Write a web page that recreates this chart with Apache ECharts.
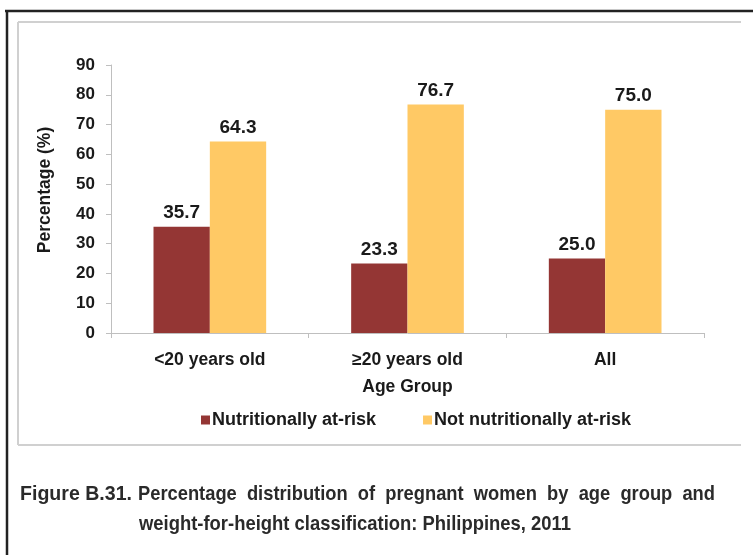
<!DOCTYPE html>
<html>
<head>
<meta charset="utf-8">
<script src="https://cdn.jsdelivr.net/npm/echarts@6/dist/echarts.min.js"></script>
<style>html,body{margin:0;padding:0;background:#fff;}#c{width:753px;height:555px;}</style>
</head>
<body>
<div id="c"></div>
<script>
var categories = ['<20 years old', '\u226520 years old', 'All'];
var seriesNames = ['Nutritionally at-risk', 'Not nutritionally at-risk'];
var atRisk = [35.7, 23.3, 25.0];
var notAtRisk = [64.3, 76.7, 75.0];
var yTicks = [0, 10, 20, 30, 40, 50, 60, 70, 80, 90];
var yAxisTitle = 'Percentage (%)';
var xAxisTitle = 'Age Group';
var captionLabel = 'Figure B.31.';
var captionLine1 = 'Percentage  distribution  of  pregnant  women  by  age  group  and';
var captionLine2 = 'weight-for-height classification: Philippines, 2011';

var font = 'Arial, "Liberation Sans", sans-serif';
var capFont = 'bold 21px "Liberation Sans Narrow", "Liberation Sans", Arial, sans-serif';
var mctx = document.createElement('canvas').getContext('2d');
mctx.font = capFont;
function fitScale(text, target) { return target / mctx.measureText(text).width; }

var chart = echarts.init(document.getElementById('c'), null, {renderer: 'canvas'});
var labelStyle = {show: true, position: 'top', distance: 4, fontFamily: font, fontWeight: 'bold', fontSize: 19, color: '#1a1a1a', formatter: function(p){return p.value.toFixed(1);}};
chart.setOption({
  animation: false,
  backgroundColor: '#fff',
  grid: {left: 111, right: 49, top: 65, bottom: 222},
  legend: {
    data: seriesNames,
    top: 406,
    left: 196,
    itemWidth: 9, itemHeight: 9, itemGap: 47,
    icon: 'rect',
    textStyle: {fontFamily: font, fontWeight: 'bold', fontSize: 18, color: '#1a1a1a', padding: [0,0,0,-3]}
  },
  xAxis: {
    type: 'category',
    data: categories,
    name: xAxisTitle,
    nameLocation: 'middle',
    nameGap: 45,
    nameTextStyle: {fontFamily: font, fontWeight: 'bold', fontSize: 17.5, color: '#1a1a1a'},
    axisLine: {lineStyle: {color: '#bfbfbf', width: 1}},
    axisTick: {show: true, length: 5, lineStyle: {color: '#bfbfbf'}},
    axisLabel: {fontFamily: font, fontWeight: 'bold', fontSize: 17.5, color: '#1a1a1a', margin: 18}
  },
  yAxis: {
    type: 'value',
    min: 0, max: 90, interval: 10,
    axisLine: {show: true, lineStyle: {color: '#bfbfbf', width: 1}},
    axisTick: {show: true, length: 5, lineStyle: {color: '#bfbfbf'}},
    splitLine: {show: false},
    axisLabel: {fontFamily: font, fontWeight: 'bold', fontSize: 17, color: '#1a1a1a', margin: 16,
      formatter: function(v){return yTicks.indexOf(v) >= 0 ? String(v) : '';}}
  },
  series: [
    {name: seriesNames[0], type: 'bar', data: atRisk, itemStyle: {color: '#943634'}, barGap: '0%', barCategoryGap: '43%', label: labelStyle},
    {name: seriesNames[1], type: 'bar', data: notAtRisk, itemStyle: {color: '#FFC965'}, label: labelStyle}
  ],
  graphic: [
    {type: 'line', shape: {x1: 5, y1: 11, x2: 753, y2: 11}, style: {stroke: '#222', lineWidth: 2.5}},
    {type: 'line', shape: {x1: 7, y1: 10, x2: 7, y2: 555}, style: {stroke: '#222', lineWidth: 2.5}},
    {type: 'line', shape: {x1: 18, y1: 22, x2: 741, y2: 22}, style: {stroke: '#d0d0d0', lineWidth: 2}},
    {type: 'line', shape: {x1: 18, y1: 22, x2: 18, y2: 445}, style: {stroke: '#d0d0d0', lineWidth: 2}},
    {type: 'line', shape: {x1: 18, y1: 445, x2: 741, y2: 445}, style: {stroke: '#d0d0d0', lineWidth: 2}},
    {type: 'text', x: 45, y: 190, rotation: Math.PI / 2, style: {text: yAxisTitle, font: 'bold 17.5px Arial, "Liberation Sans", sans-serif', fill: '#1a1a1a', align: 'center', verticalAlign: 'middle'}},
    {type: 'text', x: 20, y: 494, scaleX: fitScale(captionLabel, 112), style: {text: captionLabel, font: capFont, fill: '#2a2a2a', align: 'left', verticalAlign: 'middle'}},
    {type: 'text', x: 138, y: 494, scaleX: fitScale(captionLine1, 577), style: {text: captionLine1, font: capFont, fill: '#2a2a2a', align: 'left', verticalAlign: 'middle'}},
    {type: 'text', x: 139, y: 524, scaleX: fitScale(captionLine2, 432), style: {text: captionLine2, font: capFont, fill: '#2a2a2a', align: 'left', verticalAlign: 'middle'}}
  ]
});
</script>
</body>
</html>
